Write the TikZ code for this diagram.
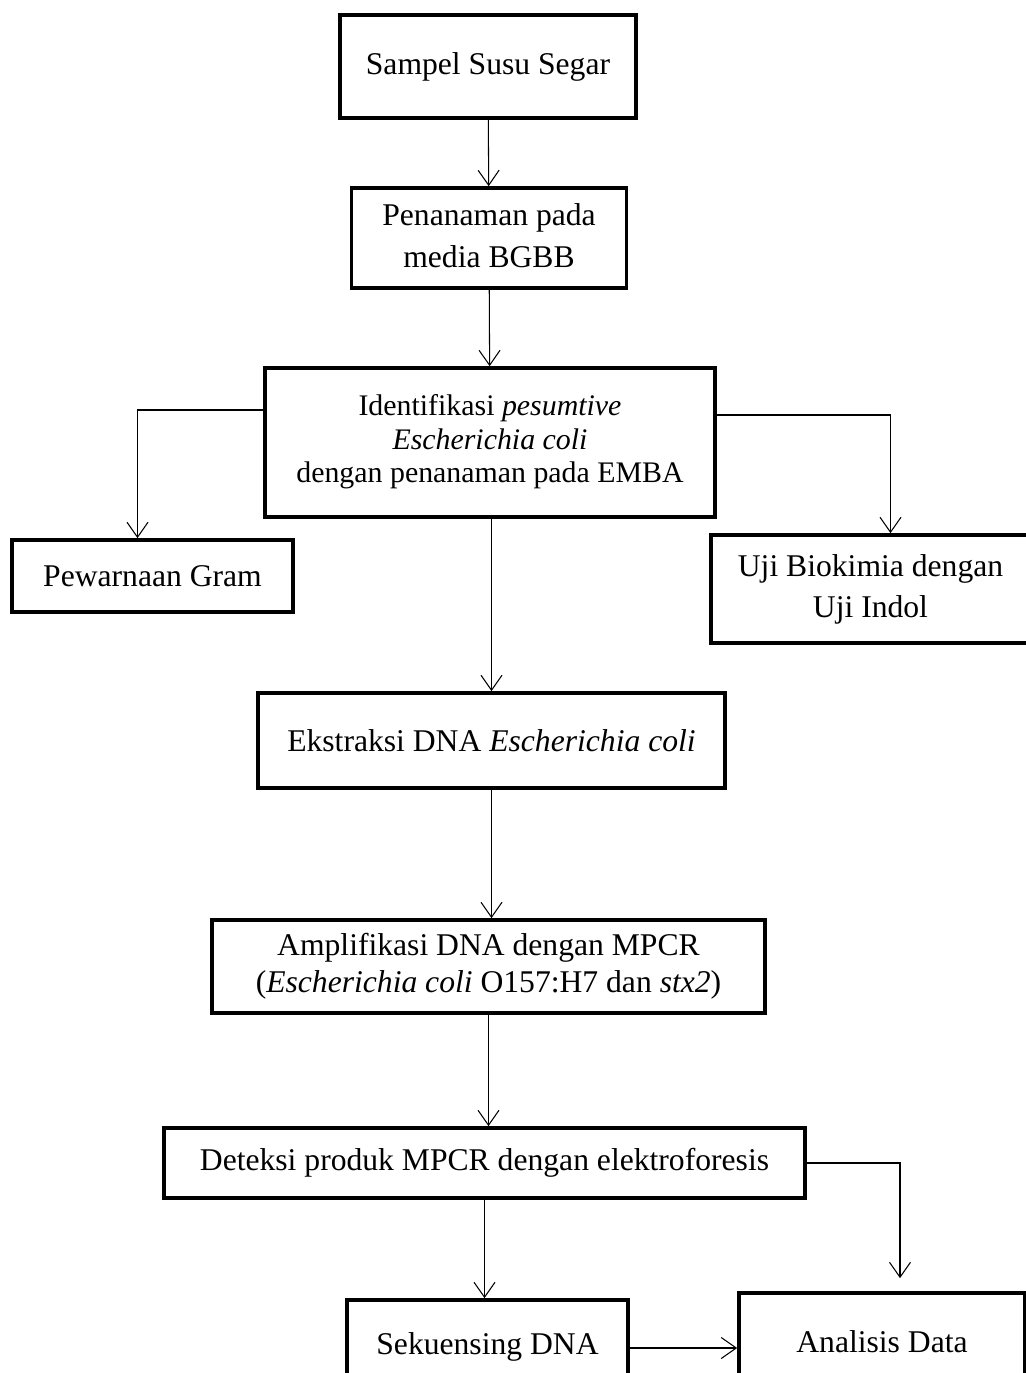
\documentclass[tikz,border=0pt]{standalone}
\usepackage{fontspec}
\setmainfont{Liberation Serif}
\usetikzlibrary{positioning, arrows.meta}

\begin{document}
\begin{tikzpicture}[
    x=0.02cm, y=-0.02cm,
    font=\fontsize{18}{23}\selectfont,
    every node/.style={align=center, inner sep=0pt},
    box/.style={draw, line width=2.1pt},
    flow/.style={line width=0.6pt, -{Straight Barb[length=0.3cm, width=0.42cm]}}
]
    \useasboundingbox (0,0) rectangle (1025,1373);

    % main column of steps
    \node[box, minimum width=296*0.02cm, minimum height=103*0.02cm] (sampel) at (488,66.5) {Sampel Susu Segar};
    \node[box, minimum width=275*0.02cm, minimum height=100*0.02cm, font=\fontsize{18}{24}\selectfont] (tanam) at (489,238)
        {\raisebox{-0.09cm}{\begin{tabular}{@{}c@{}}Penanaman pada\\media BGBB\end{tabular}}};
    \node[box, minimum width=450*0.02cm, minimum height=149*0.02cm, font=\fontsize{17}{19}\selectfont] (ident) at (490,442.5)
        {\raisebox{0.19cm}{\begin{tabular}{@{}c@{}}Identifikasi \textit{pesumtive}\\\textit{Escherichia coli}\\dengan penanaman pada EMBA\end{tabular}}};
    \node[box, minimum width=281*0.02cm, minimum height=72*0.02cm] (gram) at (152.5,576) {Pewarnaan Gram};
    \node[box, minimum width=319*0.02cm, minimum height=108*0.02cm, font=\fontsize{18}{23}\selectfont] (uji) at (870.5,589)
        {\raisebox{-0.12cm}{\begin{tabular}{@{}c@{}}Uji Biokimia dengan\\Uji Indol\end{tabular}}};
    \node[box, minimum width=467*0.02cm, minimum height=95*0.02cm] (ekstrak) at (491.5,740.5) {Ekstraksi DNA \textit{Escherichia coli}};
    \node[box, minimum width=553*0.02cm, minimum height=93*0.02cm, font=\fontsize{18}{21}\selectfont] (amplif) at (488.5,966.5)
        {\raisebox{-0.07cm}{\begin{tabular}{@{}c@{}}Amplifikasi DNA dengan MPCR\\(\textit{Escherichia coli} O157:H7 dan \textit{stx2})\end{tabular}}};
    \node[box, minimum width=641*0.02cm, minimum height=70*0.02cm] (deteksi) at (484.5,1163) {Deteksi produk MPCR dengan elektroforesis};
    \node[box, minimum width=281*0.02cm, minimum height=94*0.02cm] (sekuens) at (487.5,1347) {Sekuensing DNA};
    \node[box, minimum width=286*0.02cm, minimum height=98*0.02cm] (analisis) at (882,1342) {Analisis Data};

    % connectors
    \draw[flow] (sampel) -- (tanam);
    \draw[flow] (tanam) -- (ident);
    \draw[flow] ([yshift=0.65cm]ident.west) -| ([xshift=-0.3cm]gram.north);
    \draw[flow] ([yshift=0.55cm]ident.east) -| ([xshift=0.4cm]uji.north);
    \draw[flow] (ident.south -| ekstrak.north) -- (ekstrak.north);
    \draw[flow] (ekstrak) -- (ekstrak |- amplif.north);
    \draw[flow] (amplif) -- (amplif |- deteksi.north);
    \draw[flow] (deteksi) -- (deteksi |- sekuens.north);
    \draw[flow, shorten >=0.26cm] (deteksi.east) -| ([xshift=0.36cm]analisis.north);
    \draw[flow] (sekuens.east |- 0,1348) -- (analisis.west |- 0,1348);
\end{tikzpicture}
\end{document}
